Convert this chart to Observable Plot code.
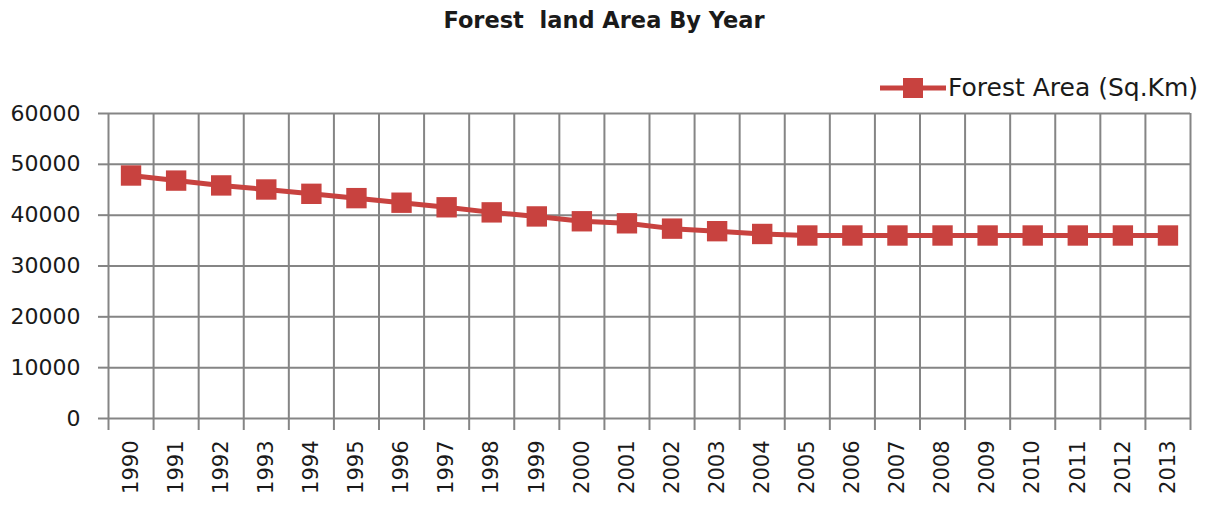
<!DOCTYPE html>
<html>
<head>
<meta charset="utf-8">
<script src="https://cdn.jsdelivr.net/npm/d3@7"></script>
<script src="https://cdn.jsdelivr.net/npm/@observablehq/plot@0.6"></script>
<style>
  html, body { margin: 0; padding: 0; background: #fff; }
  #wrap { position: relative; width: 1208px; height: 506px; font-family: "DejaVu Sans", sans-serif; }
  #title { position: absolute; left: 0; width: 1208px; top: 7px; text-align: center; font-weight: bold; font-size: 22.5px; color: #1a1a1a; white-space: pre; }
  #legend { position: absolute; left: 880px; top: 73px; display: flex; align-items: center; font-size: 25px; color: #1a1a1a; white-space: pre; }
  #legend svg { display: block; }
</style>
</head>
<body>
<div id="wrap">
  <div id="title">Forest  land Area By Year</div>
  <div id="legend"></div>
  <div id="chart"></div>
</div>
<script>
const years = [1990,1991,1992,1993,1994,1995,1996,1997,1998,1999,2000,2001,2002,2003,2004,2005,2006,2007,2008,2009,2010,2011,2012,2013];
const forestArea = [47800,46800,45850,45050,44200,43350,42450,41550,40550,39750,38800,38400,37350,36850,36300,36000,36000,36000,36000,36000,36000,36000,36000,36000];
const yTicks = [0,10000,20000,30000,40000,50000,60000];
const seriesName = "Forest Area (Sq.Km)";
const red = "#c8423f";
const grid = "#858585";

const data = years.map((y, i) => ({year: y, value: forestArea[i]}));
const bounds = years.map(y => y - 0.5).concat([years[years.length - 1] + 0.5]);

const chart = Plot.plot({
  width: 1208,
  height: 506,
  marginTop: 113,
  marginBottom: 88,
  marginLeft: 108,
  marginRight: 18,
  style: {fontFamily: "DejaVu Sans, sans-serif", color: "#1a1a1a", background: "transparent"},
  x: {type: "linear", domain: [bounds[0], bounds[bounds.length - 1]]},
  y: {domain: [0, 60000]},
  marks: [
    Plot.ruleY(yTicks, {stroke: grid, strokeWidth: 2}),
    Plot.ruleX(bounds, {stroke: grid, strokeWidth: 2}),
    Plot.axisY({ticks: yTicks, tickSize: 10, tickPadding: 18, stroke: grid, strokeWidth: 2, strokeOpacity: 1, label: null, fontSize: 22, tickFormat: d => String(d)}),
    Plot.axisX({ticks: bounds, tickSize: 12, tickFormat: () => "", stroke: grid, strokeWidth: 2, strokeOpacity: 1, label: null}),
    Plot.axisX({ticks: years, tickSize: 0, tickPadding: 22, tickRotate: -90, tickFormat: d => String(d), label: null, fontSize: 21, style: {letterSpacing: "3px"}}),
    Plot.line(data, {x: "year", y: "value", stroke: red, strokeWidth: 5}),
    Plot.dot(data, {x: "year", y: "value", symbol: "square", r: 11.5, fill: red, stroke: "none"})
  ]
});
document.getElementById("chart").appendChild(chart);

// legend
const leg = document.getElementById("legend");
const ls = d3.create("svg").attr("width", 68).attr("height", 28);
ls.append("line").attr("x1", 0).attr("x2", 66).attr("y1", 14).attr("y2", 14).attr("stroke", red).attr("stroke-width", 5);
ls.append("rect").attr("x", 23).attr("y", 4).attr("width", 20).attr("height", 20).attr("fill", red);
leg.appendChild(ls.node());
const lt = document.createElement("span");
lt.textContent = seriesName;
leg.appendChild(lt);
</script>
</body>
</html>
